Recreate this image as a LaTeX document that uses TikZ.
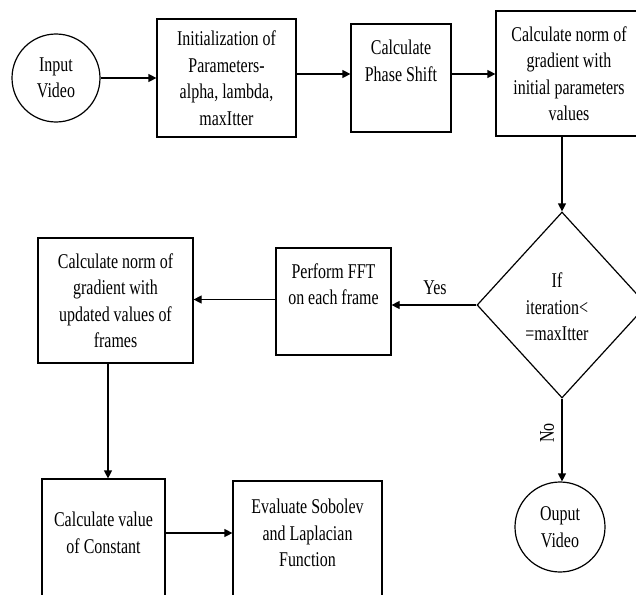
\documentclass[tikz,border=0pt]{standalone}
\usepackage{fontspec}
\setmainfont{Liberation Serif}[FakeStretch=0.76]
\usetikzlibrary{shapes.geometric,arrows.meta}
\begin{document}
\begin{tikzpicture}[x=1pt,y=-1pt,
  every node/.style={font=\fontsize{21}{26.5}\selectfont, align=center, inner sep=0pt},
  box/.style={draw, line width=1.2pt},
  circ/.style={draw, circle, line width=1.2pt},
  arr/.style={line width=1.2pt, -{Triangle[length=8pt,width=8pt]}}]
\useasboundingbox (0,0) rectangle (636,594);
\clip (0,0) rectangle (636,594);
% nodes
\node[circ, minimum size=88pt] (in) at (56,78) {Input\\Video};
\node[box, minimum width=139pt, minimum height=118pt] (init) at (226.5,78) {Initialization of\\Parameters-\\alpha, lambda,\\maxItter};
\node[box, minimum width=100pt, minimum height=108pt] (phase) at (401,78) {Calculate\\Phase Shift\\[8pt]};
\node[box, minimum width=146pt, minimum height=125pt] (calc) at (569,73.5) {Calculate norm of\\gradient with\\initial parameters\\values};
\node[draw, diamond, line width=1.2pt, minimum width=170pt, minimum height=186pt] (dia) at (562,305) {};
\node (diat) at (557,307) {If\\iteration<\\=maxItter};
\node[box, minimum width=115pt, minimum height=107pt] (fft) at (333.5,301.5) {Perform FFT\\on each frame\\[8pt]};
\node[box, minimum width=155pt, minimum height=125pt] (upd) at (115.5,300.5) {Calculate norm of\\gradient with\\updated values of\\frames};
\node[box, minimum width=123pt, minimum height=131pt] (const) at (103.5,544.5) {};
\node (constt) at (103.5,533) {Calculate value\\of Constant};
\node[box, minimum width=149pt, minimum height=129pt] (eval) at (307.5,545.5) {};
\node (evalt) at (307.5,533) {Evaluate Sobolev\\and Laplacian\\Function};
\node[circ, minimum size=90pt] (out) at (560,527) {Ouput\\Video};
% labels
\node (yes) at (435,288) {Yes};
\node[rotate=90] (no) at (547,433) {No};
% connectors
\draw[arr] (in.east) -- (init.west);
\draw[arr] ([yshift=4pt]init.east) -- ([yshift=4pt]init.east -| phase.west);
\draw[arr] ([yshift=4pt]phase.east) -- ([yshift=4pt]phase.east -| calc.west);
\draw[arr] (calc.south -| dia.north) -- (dia.north);
\draw[arr] (dia.west) -- (dia.west -| fft.east);
\draw[arr] ([yshift=2pt]fft.west) -- ([yshift=2pt]fft.west -| upd.east);
\draw[arr] ([xshift=-7.5pt]upd.south) -- ([xshift=-7.5pt]upd.south |- const.north);
\draw[arr] (constt.east -| const.east) -- (constt.east -| eval.west);
\draw[arr] (dia.south) -- (dia.south |- out.north);
\end{tikzpicture}
\end{document}
